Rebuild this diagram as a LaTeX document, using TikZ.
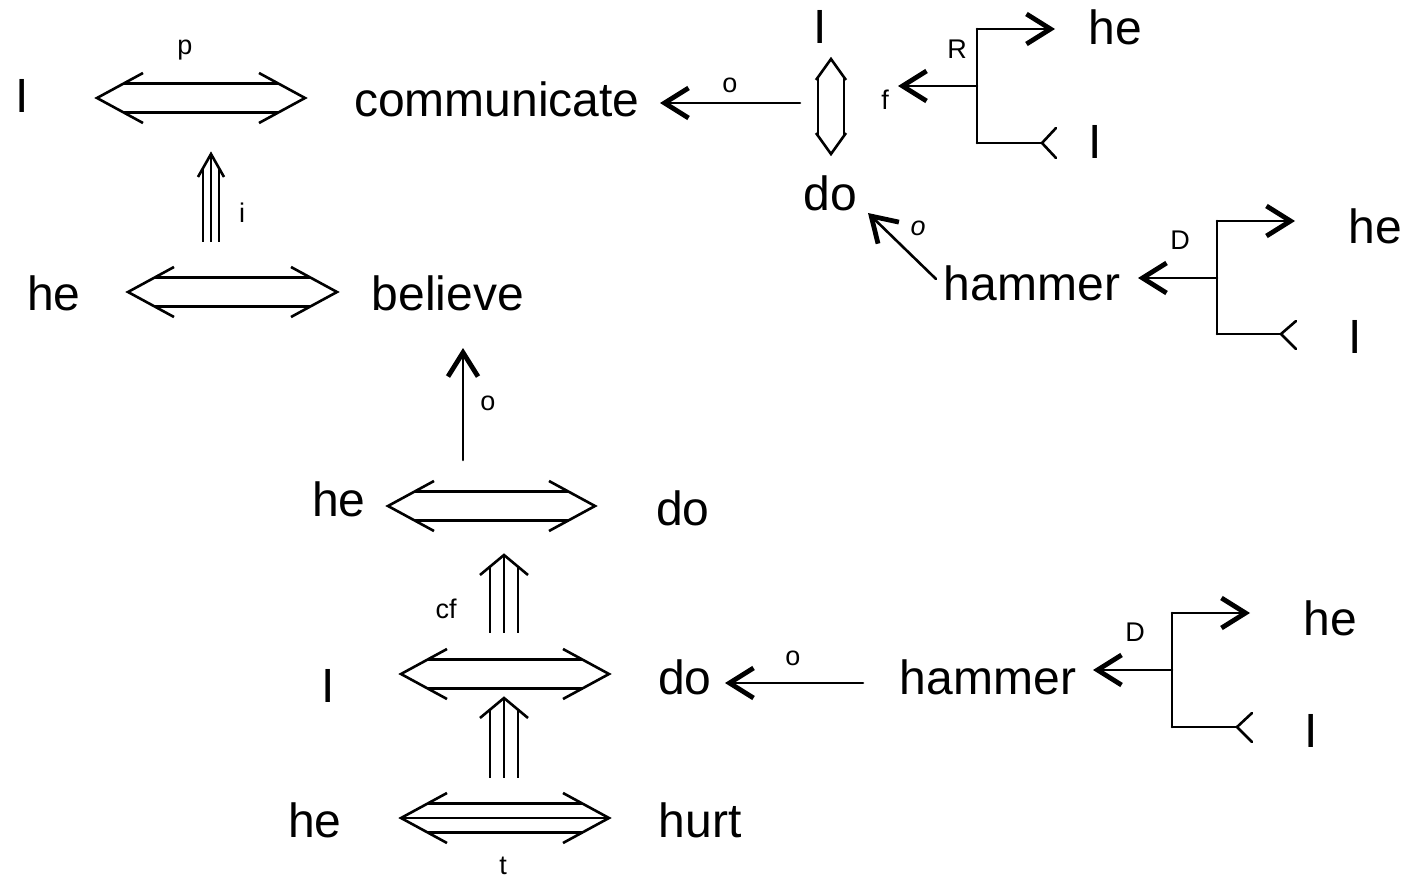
\documentclass[tikz,border=0pt]{standalone}
\usepackage{fontspec}
\setmainfont{Liberation Sans}
\usetikzlibrary{arrows.meta}
\tikzset{
  word/.style={font=\fontsize{48}{48}\selectfont, inner sep=0pt, anchor=base},
  lab/.style={font=\fontsize{27}{27}\selectfont, inner sep=0pt},
  shaft/.style={line width=2.6pt, line cap=round},
  arr/.style={shaft, -{Straight Barb[length=24pt,width=30pt,line width=4.8pt]}},
  thin/.style={line width=2.6pt, line join=miter},
}
\newcommand\hdouble[3]{%
  \draw[thin] ({#1+46},{#3-25}) -- (#1,#3) -- ({#1+46},{#3+25});
  \draw[thin] ({#2-46},{#3-25}) -- (#2,#3) -- ({#2-46},{#3+25});
  \draw[thin] ({#1+27},{#3-14.5}) -- ({#2-27},{#3-14.5});
  \draw[thin] ({#1+27},{#3+14.5}) -- ({#2-27},{#3+14.5});
}
\newcommand\htriple[3]{%
  \hdouble{#1}{#2}{#3}
  \draw[thin] (#1,#3) -- (#2,#3);
}
\newcommand\vtriple[6]{%
  \draw[thin] ({#1-#5},{#2+#6}) -- (#1,#2) -- ({#1+#5},{#2+#6});
  \draw[thin] (#1,#2) -- (#1,#3);
  \draw[thin] ({#1-#4},{#2+#4*#6/#5}) -- ({#1-#4},#3);
  \draw[thin] ({#1+#4},{#2+#4*#6/#5}) -- ({#1+#4},#3);
}
\begin{document}
\begin{tikzpicture}[x=1pt,y=-1pt]
\useasboundingbox (0,0) rectangle (1409,880);

% words
\node[word] (I1) at (22,113) {I};
\node[word] (comm) at (497,117) {communicate};
\node[word] (he1) at (54,310) {he};
\node[word] (believe) at (448,310) {believe};
\node[word] (he2) at (339,516) {he};
\node[word] (do1) at (683,525) {do};
\node[word] (I2) at (328,702) {I};
\node[word] (do2) at (685,694) {do};
\node[word] (he3) at (315,837) {he};
\node[word] (hurt) at (700,837) {hurt};
\node[word] (I3) at (820,44) {I};
\node[word] (do3) at (830,211) {do};
\node[word] (he4) at (1115,45) {he};
\node[word] (I4) at (1095,159) {I};
\node[word] (hammer1) at (1032,300) {hammer};
\node[word] (he5) at (1375,243) {he};
\node[word] (I5) at (1355,353) {I};
\node[word] (hammer2) at (988,694) {hammer};
\node[word] (he6) at (1330,635) {he};
\node[word] (I6) at (1311,747) {I};

% small labels
\node[lab] (lp) at (185,50) {p};
\node[lab] (li) at (242,213) {i};
\node[lab] (lo1) at (488,403) {o};
\node[lab] (lcf) at (446,609) {cf};
\node[lab] (lt) at (503,866) {t};
\node[lab] (lo2) at (793,658) {o};
\node[lab] (lo3) at (730,85) {o};
\node[lab] (lf) at (885,100) {f};
\node[lab] (lR) at (957,49) {R};
\node[lab,font=\fontsize{27}{27}\selectfont\itshape] (lo4) at (918,228) {o};
\node[lab] (lD1) at (1180,240) {D};
\node[lab] (lD2) at (1135,632) {D};

% double / triple arrows
\hdouble{97}{305}{98}
\hdouble{128}{337}{292}
\hdouble{388}{595}{506}
\hdouble{401}{609}{674}
\htriple{401}{609}{818}
\vtriple{211}{154}{242}{8}{13}{23}
\vtriple{504}{555}{633}{14}{24}{20}
\vtriple{504}{698}{778}{14}{24}{20}

% vertical double arrow I3 - do3
\draw[thin] (816,80) -- (831,59) -- (846,80);
\draw[thin] (816,133) -- (831,154) -- (846,133);
\draw[thin] (818,77) -- (818,136);
\draw[thin] (844,77) -- (844,136);

% single arrows
\coordinate (s3) at (800,103); \coordinate (t3) at (660,103);
\draw[arr] (s3) -- (t3);
\coordinate (s1) at (463,460); \coordinate (t1) at (463,348);
\draw[arr] (s1) -- (t1);
\coordinate (s2) at (863,683); \coordinate (t2) at (725,683);
\draw[arr] (s2) -- (t2);
\coordinate (s4) at (936,279); \coordinate (t4) at (868,213);
\draw[arr] (s4) -- (t4);

% R bracket
\coordinate (R0) at (977,86);
\coordinate (Rt) at (977,29); \coordinate (Rb) at (977,143);
\draw[shaft] (Rt) -- (Rb);
\draw[arr] (R0) -- (898,86);
\draw[arr] (Rt) -- (1055,29);
\draw[shaft] (Rb) -- (1042,143);
\draw[thin, line cap=round] (1056,128) -- (1042,143) -- (1056,158);

% D bracket 1
\coordinate (D1m) at (1217,278);
\coordinate (D1t) at (1217,221); \coordinate (D1b) at (1217,334);
\draw[shaft] (D1t) -- (D1b);
\draw[arr] (D1m) -- (1138,278);
\draw[arr] (D1t) -- (1295,221);
\draw[shaft] (D1b) -- (1281,334);
\draw[thin, line cap=round] (1296,321) -- (1281,334) -- (1296,349);

% D bracket 2
\coordinate (D2m) at (1172,670);
\coordinate (D2t) at (1172,613); \coordinate (D2b) at (1172,727);
\draw[shaft] (D2t) -- (D2b);
\draw[arr] (D2m) -- (1093,670);
\draw[arr] (D2t) -- (1250,613);
\draw[shaft] (D2b) -- (1237,727);
\draw[thin, line cap=round] (1252,713) -- (1237,727) -- (1252,742);
\end{tikzpicture}
\end{document}
